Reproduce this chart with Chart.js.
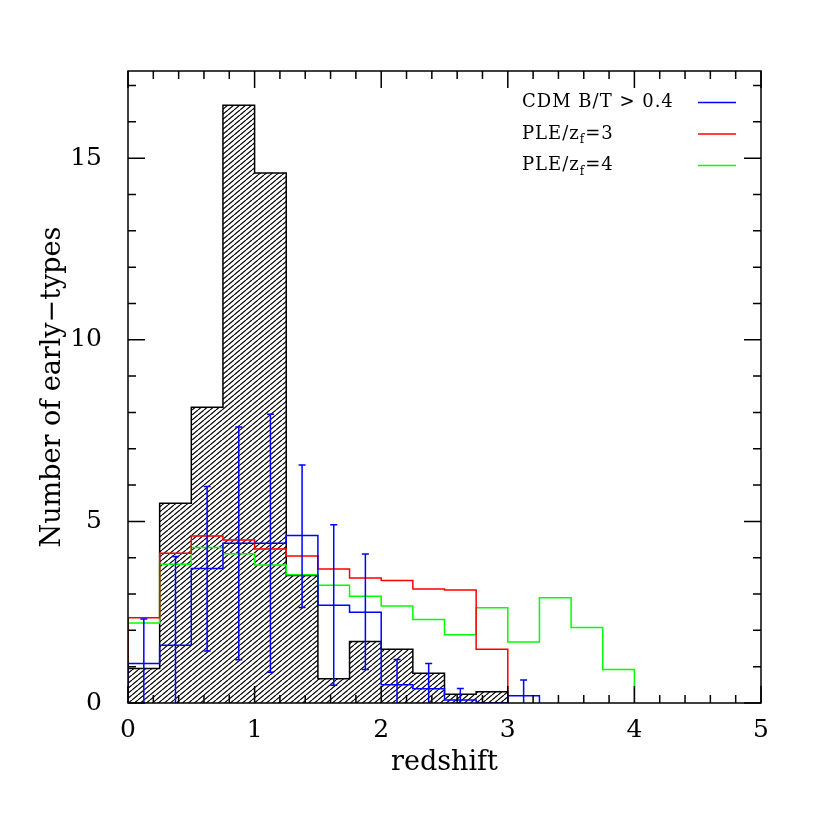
<!DOCTYPE html>
<html lang="en">
<head>
<meta charset="UTF-8">
<title>Redshift distribution of early-types</title>
<script src="https://cdn.jsdelivr.net/npm/chart.js"></script>
<style>
  html, body { margin: 0; padding: 0; background: #fff; }
  #wrap { width: 830px; height: 830px; }
</style>
</head>
<body>
<div id="wrap"><canvas id="zChart" width="830" height="830"></canvas></div>
<script>
// histogram bins: left edges, width 0.25
const binWidth = 0.25;
const binEdges = [0, 0.25, 0.5, 0.75, 1, 1.25, 1.5, 1.75, 2, 2.25, 2.5, 2.75, 3, 3.25, 3.5, 3.75];

// observed sample (hatched)
const observed = [0.95, 5.5, 8.14, 16.46, 14.59, 3.51, 0.67, 1.69, 1.48, 0.82, 0.24, 0.31];
// models
const cdm  = [1.09, 1.59, 3.70, 4.40, 4.40, 4.61, 2.69, 2.50, 0.50, 0.39, 0.08, 0, 0.20];
const ple3 = [2.35, 4.12, 4.60, 4.49, 4.24, 4.05, 3.69, 3.44, 3.37, 3.14, 3.11, 1.48];
const ple4 = [2.20, 3.82, 4.28, 4.11, 3.80, 3.53, 3.24, 2.94, 2.67, 2.30, 1.88, 2.62, 1.68, 2.90, 2.08, 0.92];

// CDM error bars (bin centres, lower / upper ends)
const errCenters = [0.125, 0.375, 0.625, 0.875, 1.125, 1.375, 1.625, 1.875, 2.125, 2.375, 2.625, 3.125];
const errHigh = [2.31, 4.03, 5.96, 7.60, 7.95, 6.55, 4.91, 4.10, 1.20, 1.09, 0.40, 0.63];
const errLow  = [-0.13, -0.85, 1.43, 1.19, 0.85, 2.63, 0.49, 0.92, -0.20, -0.31, -0.24, -0.23];

const xTickLabels = [0, 1, 2, 3, 4, 5];
const yTickLabels = [0, 5, 10, 15];

const FONT = 'DejaVu Serif';
const BLUE = '#0000ff', RED = '#ff0000', GREEN = '#00ff00';

// outline of a histogram as a stepped line
function stepPoints(values) {
    const pts = [{x: binEdges[0], y: 0}];
    values.forEach((v, i) => pts.push({x: binEdges[i], y: v}));
    const end = binEdges[values.length - 1] + binWidth;
    pts.push({x: end, y: values[values.length - 1]});
    pts.push({x: end, y: 0});
    return pts;
}

function hatchPattern() {
    const c = document.createElement('canvas');
    c.width = 6; c.height = 5;
    const g = c.getContext('2d');
    g.strokeStyle = '#000';
    g.lineWidth = 1.2;
    g.beginPath();
    [-6, 0, 6].forEach(dx => { g.moveTo(dx, 5); g.lineTo(dx + 6, 0); });
    g.stroke();
    return g.createPattern(c, 'repeat');
}

function histSet(values, color, extra) {
    return Object.assign({
        data: stepPoints(values),
        borderColor: color,
        borderWidth: 1.5,
        pointRadius: 0,
        stepped: 'before',
        fill: false
    }, extra || {});
}

// blue error bars
const errorBars = {
    id: 'errorBars',
    afterDatasetsDraw(chart) {
        const {ctx, chartArea: a, scales: {x, y}} = chart;
        ctx.save();
        ctx.beginPath();
        ctx.rect(a.left, a.top, a.right - a.left, a.bottom - a.top);
        ctx.clip();
        ctx.strokeStyle = BLUE;
        ctx.lineWidth = 1.5;
        errCenters.forEach((c, i) => {
            const px = x.getPixelForValue(c);
            const top = y.getPixelForValue(errHigh[i]);
            const bot = y.getPixelForValue(errLow[i]);
            ctx.beginPath();
            ctx.moveTo(px, bot); ctx.lineTo(px, top);
            ctx.moveTo(px - 3.5, top); ctx.lineTo(px + 3.5, top);
            ctx.moveTo(px - 3.5, bot); ctx.lineTo(px + 3.5, bot);
            ctx.stroke();
        });
        ctx.restore();
    }
};

// box with inward ticks on all four sides
const frame = {
    id: 'frame',
    afterDatasetsDraw(chart) {
        const {ctx, chartArea: a, scales: {x, y}} = chart;
        ctx.save();
        ctx.strokeStyle = '#000';
        ctx.lineWidth = 1.5;
        ctx.strokeRect(a.left, a.top, a.right - a.left, a.bottom - a.top);
        ctx.beginPath();
        for (let i = 0; i <= 25; i++) {
            const v = i * 0.2;
            const len = (i % 5 === 0) ? 17 : 8;
            const px = x.getPixelForValue(v);
            ctx.moveTo(px, a.bottom); ctx.lineTo(px, a.bottom - len);
            ctx.moveTo(px, a.top); ctx.lineTo(px, a.top + len);
        }
        for (let v = 0; v <= y.max; v++) {
            const len = (v % 5 === 0) ? 17 : 8;
            const py = y.getPixelForValue(v);
            ctx.moveTo(a.left, py); ctx.lineTo(a.left + len, py);
            ctx.moveTo(a.right, py); ctx.lineTo(a.right - len, py);
        }
        ctx.stroke();
        ctx.restore();
    }
};

// legend: label on the left, line sample on the right
const legendItems = [
    {text: 'CDM B/T > 0.4', sub: null, color: BLUE},
    {text: 'PLE/z', sub: 'f', after: '=3', color: RED},
    {text: 'PLE/z', sub: 'f', after: '=4', color: GREEN}
];
const legendBox = {
    id: 'legendBox',
    afterDraw(chart) {
        const {ctx, chartArea: a} = chart;
        ctx.save();
        ctx.fillStyle = '#000';
        ctx.textBaseline = 'middle';
        ctx.letterSpacing = '1px';
        legendItems.forEach((it, i) => {
            const ty = a.top + 31.5 + i * 31.5;
            let tx = a.right - 239;
            ctx.font = '18px "' + FONT + '"';
            ctx.fillText(it.text, tx, ty);
            if (it.sub) {
                tx += ctx.measureText(it.text).width;
                ctx.font = '12px "' + FONT + '"';
                ctx.fillText(it.sub, tx, ty + 6);
                tx += ctx.measureText(it.sub).width;
                ctx.font = '18px "' + FONT + '"';
                ctx.fillText(it.after, tx, ty);
            }
            ctx.strokeStyle = it.color;
            ctx.lineWidth = 1.5;
            ctx.beginPath();
            ctx.moveTo(a.right - 63, ty); ctx.lineTo(a.right - 25, ty);
            ctx.stroke();
        });
        ctx.restore();
    }
};

new Chart(document.getElementById('zChart'), {
    type: 'line',
    data: {
        datasets: [
            histSet(cdm, BLUE),
            histSet(ple3, RED),
            histSet(ple4, GREEN),
            histSet(observed, '#000', {backgroundColor: hatchPattern(), fill: 'origin'})
        ]
    },
    options: {
        responsive: false,
        animation: false,
        devicePixelRatio: 1,
        layout: { padding: { left: 0, top: 71, right: 69, bottom: 0 } },
        plugins: { legend: { display: false }, tooltip: { enabled: false } },
        scales: {
            x: {
                type: 'linear', min: 0, max: 5,
                afterBuildTicks: s => { s.ticks = xTickLabels.map(v => ({value: v})); },
                afterFit: s => { s.height = 127; },
                grid: { display: false, drawTicks: false },
                border: { display: false },
                ticks: { color: '#000', font: { family: FONT, size: 25 }, padding: 12, maxRotation: 0 },
                title: { display: true, text: 'redshift', color: '#000',
                         font: { family: FONT, size: 27 }, padding: { top: 0, bottom: 51 } }
            },
            y: {
                type: 'linear', min: 0, max: 17.4,
                afterBuildTicks: s => { s.ticks = yTickLabels.map(v => ({value: v})); },
                afterFit: s => { s.width = 128; },
                grid: { display: false, drawTicks: false },
                border: { display: false },
                ticks: { color: '#000', font: { family: FONT, size: 25 }, padding: 26 },
                title: { display: true, text: 'Number of early\u2212types', color: '#000',
                         font: { family: FONT, size: 27 }, padding: { top: 37, bottom: 0 } }
            }
        }
    },
    plugins: [errorBars, frame, legendBox]
});
</script>
</body>
</html>
